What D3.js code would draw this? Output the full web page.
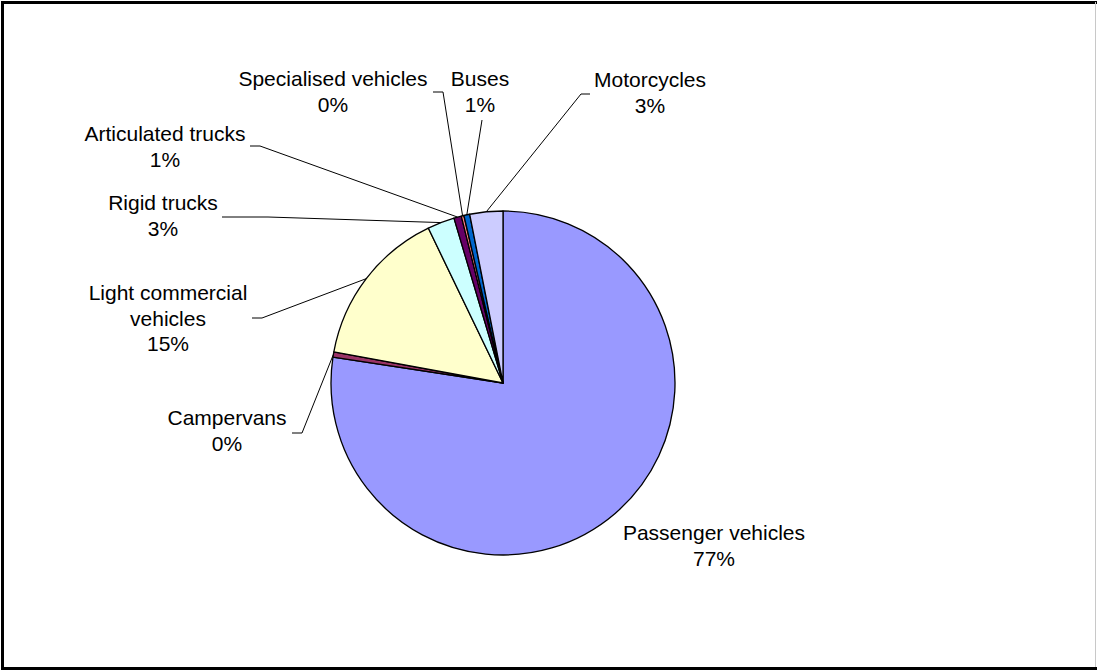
<!DOCTYPE html>
<html>
<head>
<meta charset="utf-8">
<script src="https://cdn.jsdelivr.net/npm/d3@7"></script>
<style>
    html, body { margin: 0; padding: 0; background: #fff; }
    svg { display: block; }
    .label { font-family: "Liberation Sans", Arial, sans-serif; font-size: 21px; fill: #000; }
</style>
</head>
<body>
<div class="chart-container"></div>
<script>
// Vehicle fleet share, slices in clockwise order from 12 o'clock
const categories = [
    "Passenger vehicles", "Campervans", "Light commercial vehicles", "Rigid trucks",
    "Articulated trucks", "Specialised vehicles", "Buses", "Motorcycles"
];
const shares = [77.4, 0.5, 14.95, 2.55, 0.7, 0.25, 0.55, 3.1];
const percentLabels = ["77%", "0%", "15%", "3%", "1%", "0%", "1%", "3%"];
const colors = ["#9999FF", "#993366", "#FFFFCC", "#CCFFFF", "#660066", "#FF8080", "#0066CC", "#CCCCFF"];

// Where each label sits (text centre x, first baseline y) and its leader elbow
const labelLayout = [
    { lines: ["Passenger vehicles"], x: 714, y: 540, leader: null },
    { lines: ["Campervans"], x: 227, y: 425, leader: [[292, 433], [302, 433]] },
    { lines: ["Light commercial", "vehicles"], x: 168, y: 300, leader: [[252, 318], [262, 318]] },
    { lines: ["Rigid trucks"], x: 163, y: 210, leader: [[222, 217], [268, 217]] },
    { lines: ["Articulated trucks"], x: 165, y: 141, leader: [[250, 146], [260, 146]] },
    { lines: ["Specialised vehicles"], x: 333, y: 86, leader: [[433, 92], [443, 92]] },
    { lines: ["Buses"], x: 480, y: 86, leader: [[482, 120], [482, 120]] },
    { lines: ["Motorcycles"], x: 650, y: 87, leader: [[590, 94], [581, 94]] }
];

const width = 1097, height = 670;
const cx = 503, cy = 383, radius = 172;
const lineHeight = 25.5;

const svg = d3.select(".chart-container")
    .append("svg")
    .attr("width", width)
    .attr("height", height);

// chart frame
svg.append("rect")
    .attr("x", 2.5).attr("y", 2.5)
    .attr("width", 1097).attr("height", 666)
    .attr("fill", "none")
    .attr("stroke", "#000")
    .attr("stroke-width", 3);
svg.append("line")
    .attr("x1", 1095.5).attr("x2", 1095.5)
    .attr("y1", 2).attr("y2", 667)
    .attr("stroke", "#c8c8c8")
    .attr("stroke-width", 1);

const data = categories.map((name, i) => ({ name, value: shares[i], pct: percentLabels[i], color: colors[i], layout: labelLayout[i] }));

const pie = d3.pie()
    .sort(null)
    .value(d => d.value)
    .startAngle(0)
    .endAngle(2 * Math.PI);

const arc = d3.arc().innerRadius(0).outerRadius(radius);
const arcs = pie(data);

const g = svg.append("g").attr("transform", `translate(${cx},${cy})`);

g.selectAll("path.slice")
    .data(arcs)
    .enter()
    .append("path")
    .attr("class", "slice")
    .attr("d", arc)
    .attr("fill", d => d.data.color)
    .attr("stroke", "#000")
    .attr("stroke-width", 1.3)
    .attr("stroke-linejoin", "round");

// leader lines: elbow from the label, then to the arc at the slice's mid angle
const leaders = svg.append("g").attr("class", "leaders");
arcs.forEach(d => {
    const lay = d.data.layout;
    if (!lay.leader) return;
    const mid = (d.startAngle + d.endAngle) / 2;
    const px = cx + radius * Math.sin(mid);
    const py = cy - radius * Math.cos(mid);
    const pts = [lay.leader[0], lay.leader[1], [px, py]];
    leaders.append("path")
        .attr("d", d3.line()(pts))
        .attr("fill", "none")
        .attr("stroke", "#000")
        .attr("stroke-width", 1);
});

// labels
const labels = svg.append("g").attr("class", "labels");
arcs.forEach(d => {
    const lay = d.data.layout;
    const lines = lay.lines.concat([d.data.pct]);
    const t = labels.append("text")
        .attr("class", "label")
        .attr("text-anchor", "middle")
        .attr("x", lay.x)
        .attr("y", lay.y);
    lines.forEach((ln, i) => {
        t.append("tspan")
            .attr("x", lay.x)
            .attr("dy", i === 0 ? 0 : lineHeight)
            .text(ln);
    });
});
</script>
</body>
</html>
